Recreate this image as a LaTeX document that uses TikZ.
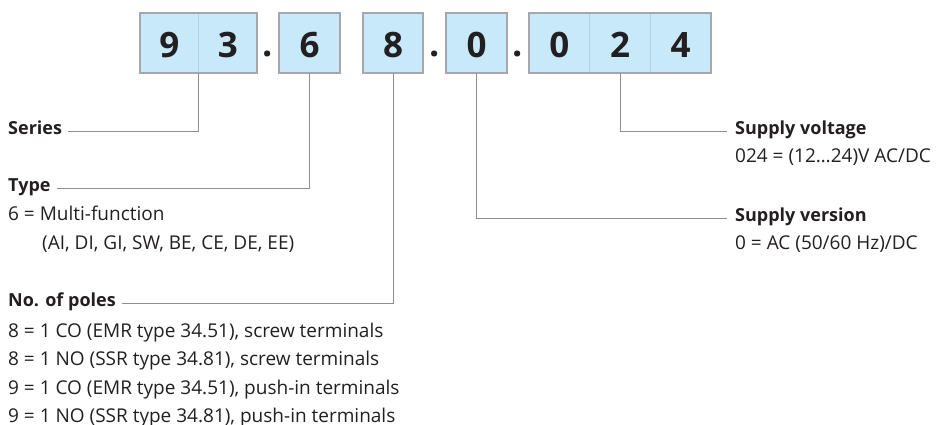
\documentclass[tikz,border=0pt]{standalone}
\usepackage{fontspec}
\setmainfont{Open Sans}
\usepackage{tikz}
\usetikzlibrary{fit}
\definecolor{ink}{HTML}{231F20}
\definecolor{cellfill}{HTML}{C7E9F9}
\definecolor{cellrule}{HTML}{B3D3E3}
\definecolor{framegray}{HTML}{A5A7AA}
\definecolor{wiregray}{HTML}{8E8E8E}
\tikzset{
  cell/.style={fill=cellfill, draw=cellrule, line width=0.6pt, outer sep=0pt,
    minimum height=60pt, inner sep=0pt, text height=29pt, text depth=0pt,
    font=\fontsize{35}{35}\selectfont\bfseries, text=ink},
  box/.style={draw=framegray, line width=1.2pt, inner sep=0pt, outer sep=0pt},
  sep/.style={anchor=base, inner sep=0pt, font=\fontsize{36}{36}\selectfont\bfseries, text=ink},
  head/.style={anchor=base west, inner sep=0pt, text height=0.75em, text depth=0.15em,
    font=\fontsize{18}{20}\selectfont\bfseries, text=ink},
  desc/.style={anchor=base west, inner sep=0pt, font=\fontsize{19}{21}\selectfont, text=ink},
  wire/.style={draw=wiregray, line width=1pt}
}

\begin{document}
\begin{tikzpicture}[x=1pt,y=-1pt]
\useasboundingbox (0,0) rectangle (946,425);

% code digits
\node[cell, minimum width=58.5pt] (c1) at (169.25,43) {9};
\node[cell, minimum width=58.5pt] (c2) at (227.75,43) {3};
\node[cell, minimum width=61pt] (c3) at (309.5,43) {6};
\node[cell, minimum width=60pt] (c4) at (393,43) {8};
\node[cell, minimum width=61pt] (c5) at (476.5,43) {0};
\node[cell, minimum width=60.7pt] (c6) at (559.35,43) {0};
\node[cell, minimum width=60.7pt] (c7) at (620,43) {2};
\node[cell, minimum width=60.7pt] (c8) at (680.65,43) {4};
\node[box, fit=(c1)(c2)] (f1) {};
\node[box, fit=(c3)] (f2) {};
\node[box, fit=(c4)] (f3) {};
\node[box, fit=(c5)] (f4) {};
\node[box, fit=(c6)(c8)] (f5) {};
\node[sep] (p1) at (268,57) {.};
\node[sep] (p2) at (434.5,57) {.};
\node[sep] (p3) at (518,57) {.};

% left labels
\node[head] (series) at (8,135) {Series};
\node[head] (type) at (8,192) {Type};
\node[desc] (type1) at (8,221) {6 = Multi-function};
\node[desc] (type2) at (42,249) {(AI, DI, GI, SW, BE, CE, DE, EE)};
\node[head] (poles) at (8,306) {No. of poles};
\node[desc] (poles1) at (8,337) {8 = 1 CO (EMR type 34.51), screw terminals};
\node[desc] (poles2) at (8,365.5) {8 = 1 NO (SSR type 34.81), screw terminals};
\node[desc] (poles3) at (8,394) {9 = 1 CO (EMR type 34.51), push-in terminals};
\node[desc] (poles4) at (8,422) {9 = 1 NO (SSR type 34.81), push-in terminals};

% right labels
\node[head] (voltage) at (735,135) {Supply voltage};
\node[desc] (voltage1) at (735,163) {024 = (12…24)V AC/DC};
\node[head] (version) at (735,222) {Supply version};
\node[desc] (version1) at (735,250) {0 = AC (50/60 Hz)/DC};

% leaders
\draw[wire, shorten <=6pt] (series.east) -| (f1.south);
\draw[wire, shorten <=6pt] (type.east) -| (f2.south);
\draw[wire, shorten <=6pt] (poles.east) -| (f3.south);
\draw[wire, shorten >=8pt] (f4.south) |- (version.west);
\draw[wire, shorten >=8pt] (f5.south) |- (voltage.west);
\end{tikzpicture}
\end{document}
